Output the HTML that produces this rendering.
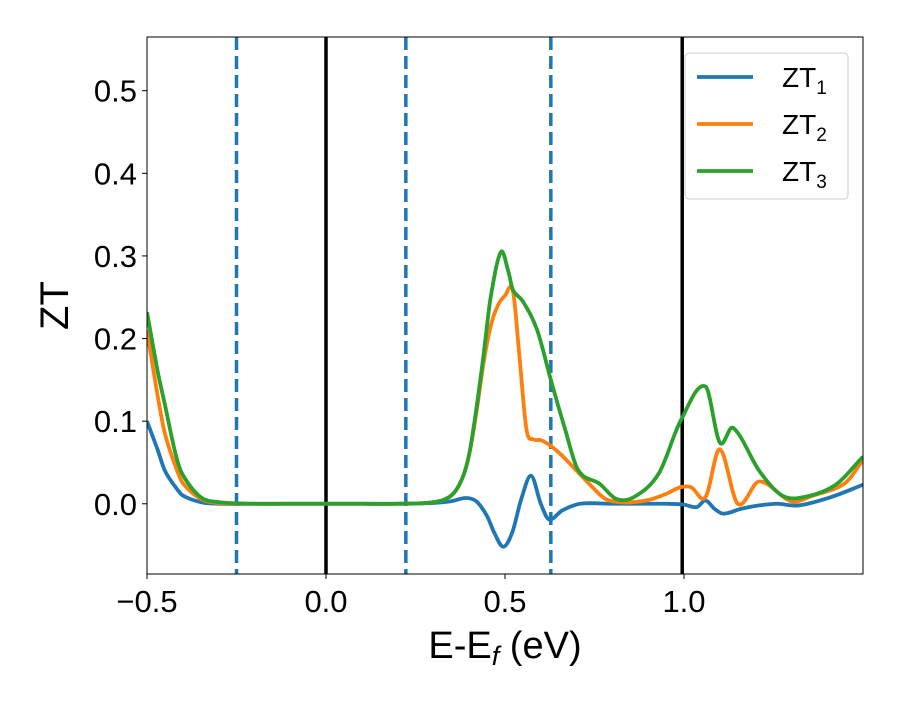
<!DOCTYPE html>
<html><head><meta charset="utf-8"><style>
body{margin:0;background:#fff}
svg text{font-family:"Liberation Sans","DejaVu Sans",sans-serif}
</style></head><body>
<svg id="chart" width="900" height="700" xmlns="http://www.w3.org/2000/svg">
<rect width="900" height="700" fill="#fff"/>
<g id="plot"></g>
</svg>
<script>
const xTicks=[-0.5,0.0,0.5,1.0];
const xTickLabels=["\u22120.5","0.0","0.5","1.0"];
const yTicks=[0,0.1,0.2,0.3,0.4,0.5];
const yTickLabels=["0.0","0.1","0.2","0.3","0.4","0.5"];
const dashedLines=[-0.25,0.223,0.628];
const solidLines=[0.0,0.995];
const zt1X=[-0.5,-0.47,-0.45,-0.42,-0.4,-0.35,-0.3,-0.2,-0.1,0,0.1,0.2,0.3,0.35,0.39,0.42,0.45,0.47,0.495,0.52,0.545,0.573,0.6,0.623,0.66,0.71,0.8,0.88,0.95,1.0,1.036,1.06,1.085,1.11,1.16,1.21,1.26,1.32,1.41,1.5];
const zt1Y=[0.10,0.065,0.04,0.02,0.01,0.002,0.0,0.0,0.0,0.0,0.0,0.0,0.001,0.003,0.007,0.003,-0.015,-0.035,-0.052,-0.035,0.005,0.034,0.0,-0.019,-0.008,0.0,0.0,0.0,0.0,-0.001,-0.004,0.004,-0.006,-0.012,-0.006,-0.002,0.0,-0.002,0.008,0.023];
const zt2X=[-0.5,-0.47,-0.45,-0.42,-0.4,-0.35,-0.3,-0.2,-0.1,0,0.1,0.2,0.3,0.35,0.38,0.40,0.42,0.44,0.46,0.48,0.50,0.522,0.54,0.56,0.58,0.60,0.628,0.66,0.70,0.74,0.78,0.82,0.86,0.905,0.95,0.99,1.02,1.06,1.10,1.15,1.21,1.30,1.36,1.45,1.5];
const zt2Y=[0.21,0.13,0.085,0.045,0.025,0.006,0.001,0.0,0.0,0.0,0.0,0.0,0.002,0.01,0.03,0.06,0.11,0.17,0.215,0.24,0.252,0.258,0.18,0.09,0.078,0.077,0.07,0.058,0.04,0.022,0.006,0.002,0.002,0.005,0.012,0.02,0.02,0.008,0.066,0.0,0.027,0.003,0.01,0.025,0.053];
const zt3X=[-0.5,-0.47,-0.45,-0.42,-0.4,-0.35,-0.3,-0.2,-0.1,0,0.1,0.2,0.3,0.35,0.38,0.40,0.42,0.44,0.46,0.489,0.51,0.522,0.55,0.59,0.628,0.668,0.704,0.765,0.81,0.86,0.93,0.99,1.06,1.10,1.137,1.21,1.27,1.32,1.42,1.5];
const zt3Y=[0.232,0.16,0.12,0.06,0.035,0.008,0.002,0.0,0.0,0.0,0.0,0.0,0.002,0.01,0.03,0.06,0.115,0.18,0.25,0.305,0.28,0.259,0.245,0.21,0.15,0.09,0.041,0.024,0.006,0.008,0.037,0.10,0.142,0.074,0.092,0.04,0.011,0.007,0.022,0.057];

const L=147,R=863,T=37,B=574,xmin=-0.5,xmax=1.5,ymin=-0.085,ymax=0.565;
const sx=v=>L+(v-xmin)/(xmax-xmin)*(R-L);
const sy=v=>B-(v-ymin)/(ymax-ymin)*(B-T);
const NS="http://www.w3.org/2000/svg";
const g=document.getElementById('plot');
function el(tag,attrs,parent){const e=document.createElementNS(NS,tag);for(const k in attrs)e.setAttribute(k,attrs[k]);(parent||g).appendChild(e);return e;}
function path(xs,ys){
  const n=xs.length,m=[];
  for(let i=0;i<n;i++){
    const a=Math.max(0,i-1),b=Math.min(n-1,i+1);
    m.push((ys[b]-ys[a])/(xs[b]-xs[a]));
  }
  let d="M"+sx(xs[0])+","+sy(ys[0]);
  for(let i=0;i<n-1;i++){
    const h=xs[i+1]-xs[i];
    d+=" C"+sx(xs[i]+h/3)+","+sy(ys[i]+m[i]*h/3)+" "+sx(xs[i+1]-h/3)+","+sy(ys[i+1]-m[i+1]*h/3)+" "+sx(xs[i+1])+","+sy(ys[i+1]);
  }
  return d;
}
const clip=el('clipPath',{id:'clip'});el('rect',{x:L,y:T,width:R-L,height:B-T},clip);
const lines=el('g',{'clip-path':'url(#clip)'});


dashedLines.forEach(v=>{const l=el('line',{x1:sx(v),x2:sx(v),y1:T,y2:B,stroke:'#1f77b4','stroke-width':3.5,'stroke-dasharray':'13,6'},lines);

});
solidLines.forEach(v=>{const l=el('line',{x1:sx(v),x2:sx(v),y1:T,y2:B,stroke:'#000','stroke-width':3.5},lines);

});
const series=[[zt1X,zt1Y,'#1f77b4','zt1-line'],[zt2X,zt2Y,'#ff7f0e','zt2-line'],[zt3X,zt3Y,'#2ca02c','zt3-line']];
series.forEach(s=>{const p=el('path',{d:path(s[0],s[1]),fill:'none',stroke:s[2],'stroke-width':3.8,'stroke-linejoin':'round'},lines);

});
const frame=el('rect',{x:L,y:T,width:R-L,height:B-T,fill:'none',stroke:'#000','stroke-width':1});


xTicks.forEach((v,i)=>{el('line',{x1:sx(v),x2:sx(v),y1:B,y2:B+5,stroke:'#000'});
const t=el('text',{x:sx(v),y:B+38,'font-size':31,'text-anchor':'middle'});t.textContent=xTickLabels[i];

});
yTicks.forEach((v,i)=>{el('line',{x1:L-5,x2:L,y1:sy(v),y2:sy(v),stroke:'#000'});
const t=el('text',{x:L-10,y:sy(v)+11,'font-size':31,'text-anchor':'end'});t.textContent=yTickLabels[i];

});
const xt=el('text',{x:(L+R)/2,y:658,'font-size':38,'text-anchor':'middle'});
xt.innerHTML='E-E<tspan font-style="italic" font-size="27" dy="7">f</tspan><tspan dy="-7"> (eV)</tspan>';


const yt=el('text',{x:0,y:0,'font-size':40,'text-anchor':'middle',transform:`translate(68,${(T+B)/2}) rotate(-90)`});yt.textContent='ZT';


const lg=el('g',{});


el('rect',{x:685,y:53,width:163,height:146,rx:4,fill:'#fff',stroke:'#ccc','fill-opacity':0.8},lg);
['#1f77b4','#ff7f0e','#2ca02c'].forEach((c,i)=>{const y=77+i*47;
const e=el('g',{},lg);


el('line',{x1:697,x2:753,y1:y,y2:y,stroke:c,'stroke-width':3.8},e);
const t=el('text',{x:782,y:y+10,'font-size':28},e);t.innerHTML='ZT<tspan font-size="19" dy="7">'+(i+1)+'</tspan>';});
</script>
</body></html>
